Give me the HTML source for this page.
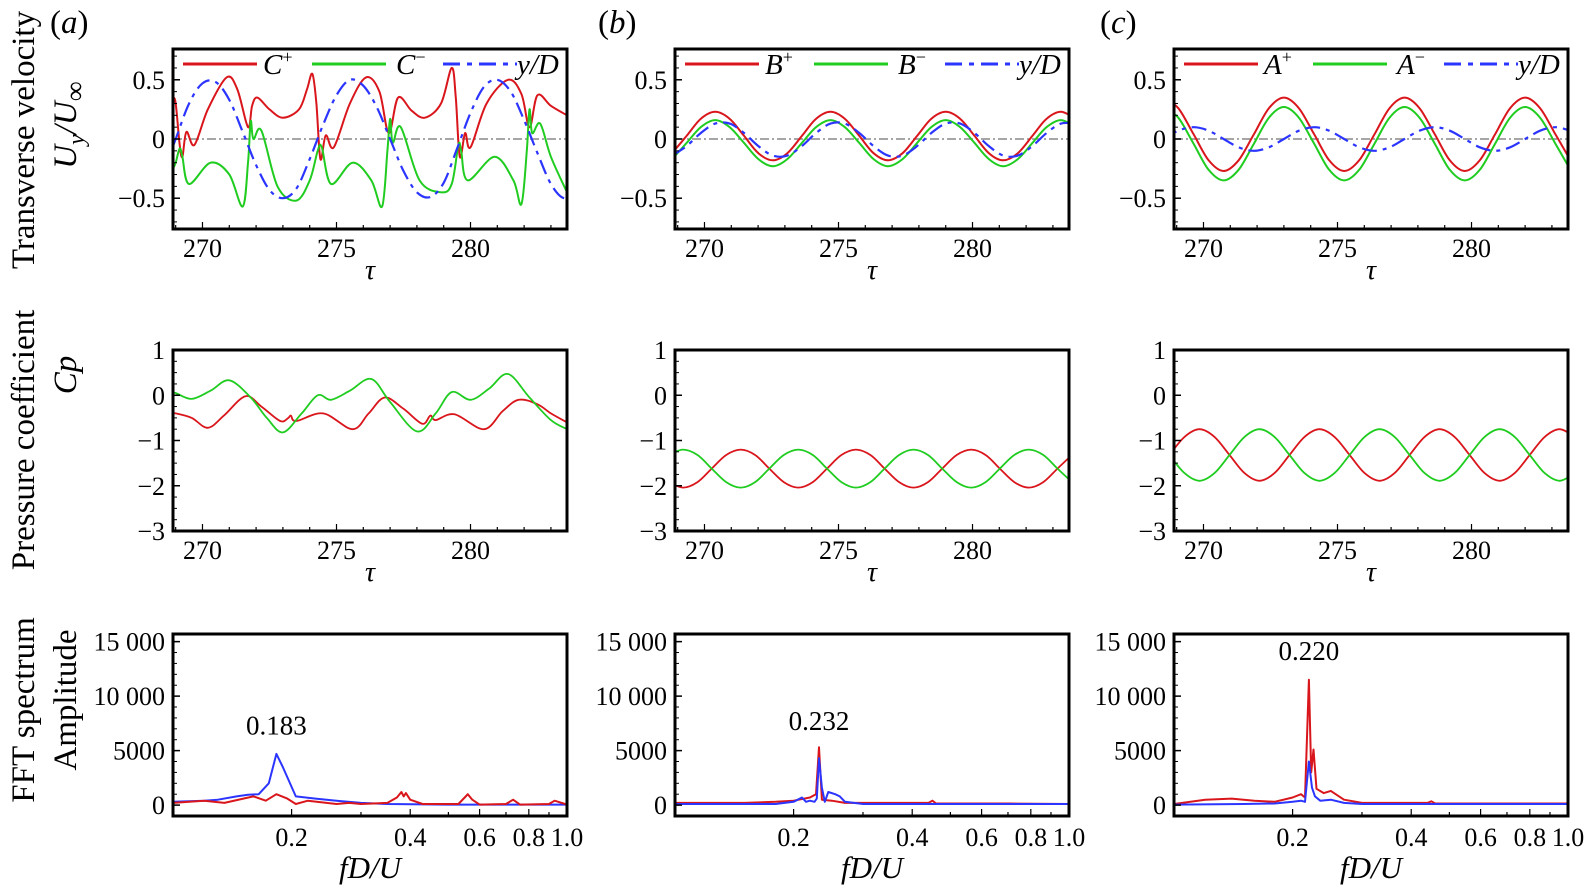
<!DOCTYPE html>
<html><head><meta charset="utf-8"><style>
html,body{margin:0;padding:0;background:#fff;}
svg, svg text{font-family:"Liberation Serif","DejaVu Serif",serif;}
</style></head><body>
<svg id="fig" width="1592" height="886" viewBox="0 0 1592 886" xmlns="http://www.w3.org/2000/svg" font-family="Liberation Serif, DejaVu Serif, serif">
<g font-size="33" fill="#000">
<text transform="translate(34,140) rotate(-90)" text-anchor="middle">Transverse velocity</text>
<text transform="translate(76,125) rotate(-90)" text-anchor="middle" font-style="italic">U<tspan font-size="24" dy="8">y</tspan><tspan dy="-8">/U</tspan><tspan font-size="28" dy="8" font-style="normal">∞</tspan></text>
<text transform="translate(34,440) rotate(-90)" text-anchor="middle">Pressure coefficient</text>
<text transform="translate(76,375) rotate(-90)" text-anchor="middle" font-style="italic">Cp</text>
<text transform="translate(34,710) rotate(-90)" text-anchor="middle">FFT spectrum</text>
<text transform="translate(76,700) rotate(-90)" text-anchor="middle">Amplitude</text>
</g>
<g font-size="33">
<text x="50" y="33">(<tspan font-style="italic">a</tspan>)</text>
<text x="598" y="33">(<tspan font-style="italic">b</tspan>)</text>
<text x="1100" y="33">(<tspan font-style="italic">c</tspan>)</text>
</g>
<g id="plots"></g>
</svg>
<script>
// ---------- Row 1: transverse velocity ----------
const velA_cPlusT = [268.9,269.0,269.15,269.25,269.4,269.7,270.2,270.9,271.3,271.7,271.85,272.05,272.5,273.0,273.6,273.9,274.1,274.25,274.4,274.6,274.9,275.5,276.1,276.6,276.95,277.3,277.8,278.3,278.9,279.3,279.45,279.6,279.8,280.0,280.6,281.4,281.9,282.2,282.5,283.0,283.6];
const velA_cPlusV = [0.35,0.3,-0.05,-0.15,0.06,-0.05,0.25,0.52,0.42,0.1,0.28,0.35,0.25,0.18,0.25,0.42,0.55,0.3,-0.17,0.03,-0.07,0.3,0.52,0.4,0.05,0.35,0.24,0.18,0.3,0.6,0.35,-0.15,0.05,-0.07,0.3,0.5,0.38,0.1,0.37,0.28,0.2];
const velA_cMinusT = [268.9,269.0,269.15,269.25,269.5,270.3,271.0,271.5,271.7,271.8,271.9,272.2,272.8,273.5,274.0,274.3,274.45,274.8,275.6,276.3,276.7,276.9,277.0,277.1,277.4,278.1,278.9,279.3,279.55,279.65,279.9,280.9,281.6,281.9,282.1,282.2,282.3,282.6,283.0,283.6];
const velA_cMinusV = [-0.25,-0.2,-0.08,-0.15,-0.38,-0.2,-0.3,-0.57,-0.2,0.15,0.0,0.07,-0.4,-0.52,-0.35,-0.1,-0.07,-0.38,-0.2,-0.35,-0.57,-0.1,0.17,-0.03,0.1,-0.35,-0.45,-0.38,-0.05,-0.1,-0.35,-0.15,-0.35,-0.55,-0.1,0.25,0.05,0.13,-0.15,-0.45];
const velA_yT = [268.5,269.0,269.5,270.0,270.5,271.0,271.5,272.0,272.5,273.0,273.5,274.0,274.5,275.0,275.5,276.0,276.5,277.0,277.5,278.0,278.5,279.0,279.5,280.0,280.5,281.0,281.5,282.0,282.5,283.0,283.5,284.0];
const velA_yV = [-0.3,0.0,0.3,0.47,0.48,0.33,0.06,-0.22,-0.43,-0.5,-0.42,-0.17,0.12,0.37,0.5,0.45,0.27,0.0,-0.27,-0.45,-0.49,-0.37,-0.08,0.22,0.44,0.5,0.4,0.16,-0.12,-0.38,-0.5,-0.42];

const velB_t = [268.79,269.33,269.86,270.40,270.94,271.48,272.01,272.55,273.09,273.63,274.16,274.70,275.24,275.78,276.31,276.85,277.39,277.93,278.46,279.00,279.54,280.08,280.61,281.15,281.69,282.23,282.76,283.30,283.84];
const velB_plus = [-0.12,0.025,0.17,0.23,0.17,0.025,-0.12,-0.18,-0.12,0.025,0.17,0.23,0.17,0.025,-0.12,-0.18,-0.12,0.025,0.17,0.23,0.17,0.025,-0.12,-0.18,-0.12,0.025,0.17,0.23,0.17];
const velB_minus = [-0.17,-0.035,0.10,0.16,0.10,-0.035,-0.17,-0.23,-0.17,-0.035,0.10,0.16,0.10,-0.035,-0.17,-0.23,-0.17,-0.035,0.10,0.16,0.10,-0.035,-0.17,-0.23,-0.17,-0.035,0.10,0.16,0.10];
const velB_y = [-0.14,-0.06,0.05,0.13,0.13,0.05,-0.06,-0.14,-0.14,-0.06,0.05,0.13,0.13,0.05,-0.06,-0.14,-0.14,-0.06,0.05,0.13,0.13,0.05,-0.06,-0.14,-0.14,-0.06,0.05,0.13,0.13];

const velC_t = [268.5,269.06,269.63,270.19,270.75,271.31,271.88,272.44,273.0,273.56,274.13,274.69,275.25,275.81,276.38,276.94,277.5,278.06,278.63,279.19,279.75,280.31,280.88,281.44,282.0,282.56,283.13,283.69];
const velC_plus = [0.35,0.26,0.04,-0.18,-0.27,-0.18,0.04,0.26,0.35,0.26,0.04,-0.18,-0.27,-0.18,0.04,0.26,0.35,0.26,0.04,-0.18,-0.27,-0.18,0.04,0.26,0.35,0.26,0.04,-0.18];
const velC_minus = [0.27,0.18,-0.04,-0.26,-0.35,-0.26,-0.04,0.18,0.27,0.18,-0.04,-0.26,-0.35,-0.26,-0.04,0.18,0.27,0.18,-0.04,-0.26,-0.35,-0.26,-0.04,0.18,0.27,0.18,-0.04,-0.26];
const velC_y = [0,0.07,0.1,0.07,0,-0.07,-0.1,-0.07,0,0.07,0.1,0.07,0,-0.07,-0.1,-0.07,0,0.07,0.1,0.07,0,-0.07,-0.1,-0.07,0,0.07,0.1,0.07];

// ---------- Row 2: pressure coefficient ----------
const cpA_plusT = [268.9,269.0,269.6,270.2,270.8,271.6,272.2,272.9,273.2,273.3,273.5,274.5,275.6,276.2,276.8,277.5,278.2,278.5,278.7,279.4,280.5,281.2,281.8,282.5,283.0,283.6];
const cpA_plusV = [-0.4,-0.4,-0.5,-0.72,-0.45,-0.02,-0.25,-0.57,-0.5,-0.45,-0.57,-0.4,-0.75,-0.4,-0.05,-0.3,-0.63,-0.45,-0.55,-0.42,-0.75,-0.35,-0.1,-0.2,-0.4,-0.6];
const cpA_minusT = [268.9,269.0,269.6,270.3,271.0,271.8,272.4,273.0,273.7,274.3,274.8,275.5,276.3,277.0,278.0,278.7,279.3,280.0,280.7,281.4,282.2,283.0,283.6];
const cpA_minusV = [0.05,0.05,-0.08,0.1,0.33,-0.05,-0.5,-0.82,-0.4,0.0,-0.1,0.1,0.36,-0.15,-0.8,-0.4,0.07,-0.1,0.15,0.47,-0.05,-0.55,-0.75];

const cpB_t = [268.66,269.2,269.74,270.27,270.81,271.35,271.89,272.42,272.96,273.5,274.04,274.57,275.11,275.65,276.19,276.72,277.26,277.8,278.34,278.87,279.41,279.95,280.49,281.02,281.56,282.1,282.64,283.17,283.71];
const cpB_plus = [-1.92,-2.04,-1.92,-1.62,-1.32,-1.2,-1.32,-1.62,-1.92,-2.04,-1.92,-1.62,-1.32,-1.2,-1.32,-1.62,-1.92,-2.04,-1.92,-1.62,-1.32,-1.2,-1.32,-1.62,-1.92,-2.04,-1.92,-1.62,-1.32];
const cpB_minus = [-1.32,-1.2,-1.32,-1.62,-1.92,-2.04,-1.92,-1.62,-1.32,-1.2,-1.32,-1.62,-1.92,-2.04,-1.92,-1.62,-1.32,-1.2,-1.32,-1.62,-1.92,-2.04,-1.92,-1.62,-1.32,-1.2,-1.32,-1.62,-1.92];

const cpC_t = [268.73,269.29,269.85,270.41,270.97,271.53,272.09,272.65,273.21,273.77,274.33,274.89,275.45,276.01,276.57,277.13,277.69,278.25,278.81,279.37,279.93,280.49,281.05,281.61,282.17,282.73,283.29,283.85];
const cpC_plus = [-1.32,-0.92,-0.75,-0.92,-1.32,-1.72,-1.89,-1.72,-1.32,-0.92,-0.75,-0.92,-1.32,-1.72,-1.89,-1.72,-1.32,-0.92,-0.75,-0.92,-1.32,-1.72,-1.89,-1.72,-1.32,-0.92,-0.75,-0.92];
const cpC_minus = [-1.32,-1.72,-1.89,-1.72,-1.32,-0.92,-0.75,-0.92,-1.32,-1.72,-1.89,-1.72,-1.32,-0.92,-0.75,-0.92,-1.32,-1.72,-1.89,-1.72,-1.32,-0.92,-0.75,-0.92,-1.32,-1.72,-1.89,-1.72];

// ---------- Row 3: FFT spectrum ----------
const fftA_blueF = [0.1,0.12,0.13,0.145,0.155,0.165,0.175,0.183,0.19,0.205,0.23,0.26,0.3,0.35,0.5,1.0];
const fftA_blueA = [300,400,500,800,950,1000,2000,4700,3500,800,600,400,200,100,50,50];
const fftA_redF = [0.1,0.12,0.135,0.16,0.172,0.183,0.195,0.205,0.22,0.26,0.28,0.3,0.35,0.37,0.38,0.385,0.39,0.4,0.43,0.53,0.55,0.56,0.575,0.6,0.7,0.73,0.76,0.9,0.93,1.0];
const fftA_redA = [200,400,200,800,400,1000,600,100,400,100,200,100,200,700,1200,800,1100,500,100,100,700,1000,500,50,100,500,50,100,400,50];
const fftB_redF = [0.1,0.15,0.18,0.2,0.22,0.228,0.232,0.236,0.25,0.27,0.3,0.44,0.45,0.46,0.7,1.0];
const fftB_redA = [200,200,300,400,700,1000,5300,500,400,200,200,200,400,150,150,100];
const fftB_blueF = [0.1,0.18,0.2,0.21,0.215,0.22,0.226,0.229,0.232,0.236,0.24,0.245,0.255,0.262,0.27,0.3,1.0];
const fftB_blueA = [100,100,300,700,300,400,300,600,4300,1600,300,1200,1000,800,300,100,100];
const fftC_redF = [0.1,0.12,0.14,0.16,0.18,0.2,0.21,0.215,0.22,0.223,0.226,0.23,0.24,0.25,0.27,0.3,0.44,0.45,0.46,1.0];
const fftC_redA = [100,500,600,400,300,700,1000,700,11500,3000,5100,1500,1100,1300,500,200,200,350,150,150];
const fftC_blueF = [0.1,0.15,0.18,0.2,0.21,0.215,0.22,0.224,0.228,0.235,0.25,0.27,0.3,1.0];
const fftC_blueA = [50,100,150,300,400,300,4000,1600,800,400,500,200,100,100];

// ---------- layout ----------
const NS = "http://www.w3.org/2000/svg";
const COLX = [173, 675, 1174], PW = 394;
const ROWS = [{y:49,h:180,d:[-0.76,0.76]},{y:350,h:181,d:[-3,1]},{y:634,h:182,d:[-1000,15700]}];
const TDOM = [268.9, 283.6];
const FDOM = [0.1, 1.0];
const RED = "#d9161c", GREEN = "#1fcc1f", BLUE = "#2b35ff";
const FONT = "Liberation Serif, DejaVu Serif, serif";
const root = document.getElementById("plots");

function el(tag, attrs, parent){ const e=document.createElementNS(NS,tag); for(const k in attrs) e.setAttribute(k,attrs[k]); (parent||root).appendChild(e); return e; }
function xLin(c){ return v => COLX[c] + (v-TDOM[0])/(TDOM[1]-TDOM[0])*PW; }
function xLog(c){ return v => COLX[c] + (Math.log10(v)-Math.log10(FDOM[0]))/(Math.log10(FDOM[1])-Math.log10(FDOM[0]))*PW; }
function yS(r){ const R=ROWS[r]; return v => R.y + R.h - (v-R.d[0])/(R.d[1]-R.d[0])*R.h; }

function smoothPath(xs, ys){
  const p = xs.map((x,i)=>[x,ys[i]]);
  let d = "M"+p[0][0].toFixed(1)+","+p[0][1].toFixed(1);
  for(let i=0;i<p.length-1;i++){
    const p0=p[i-1]||p[i], p1=p[i], p2=p[i+1], p3=p[i+2]||p2;
    const c1=[p1[0]+(p2[0]-p0[0])/6, p1[1]+(p2[1]-p0[1])/6];
    const c2=[p2[0]-(p3[0]-p1[0])/6, p2[1]-(p3[1]-p1[1])/6];
    d += "C"+c1[0].toFixed(1)+","+c1[1].toFixed(1)+" "+c2[0].toFixed(1)+","+c2[1].toFixed(1)+" "+p2[0].toFixed(1)+","+p2[1].toFixed(1);
  }
  return d;
}
function linePath(xs, ys){ return xs.map((x,i)=>(i?"L":"M")+x.toFixed(1)+","+ys[i].toFixed(1)).join(""); }

let clipN = 0;
function makePanel(c, r, name){
  const R = ROWS[r];
  const g = el("g", {});
  
  
  const cp = el("clipPath", {id:"clip"+(++clipN)}, g);
  el("rect", {x:COLX[c], y:R.y, width:PW, height:R.h}, cp);
  const plot = el("g", {"clip-path":"url(#clip"+clipN+")"}, g);
  
  
  return {g, plot, R, x0:COLX[c]};
}
function frame(P){
  const f = el("rect", {x:P.x0, y:P.R.y, width:PW, height:P.R.h, fill:"none", stroke:"#000", "stroke-width":3}, P.g);
  
  
}
function series(P, xs, ys, color, name, smooth, dash, w){
  const d = smooth ? smoothPath(xs, ys) : linePath(xs, ys);
  const p = el("path", {d, fill:"none", stroke:color, "stroke-width":w||2, "stroke-linejoin":"round"}, P.plot);
  if(dash) p.setAttribute("stroke-dasharray", dash);
  
  
}
function text(parent, x, y, s, attrs){
  const t = el("text", Object.assign({x, y, "font-size":26, "font-family":FONT}, attrs||{}), parent);
  t.textContent = s;
  return t;
}

const yTicks = [[0.5,0,-0.5],[1,0,-1,-2,-3],[15000,10000,5000,0]];
const yTickLabels = [["0.5","0","\u22120.5"],["1","0","\u22121","\u22122","\u22123"],["15 000","10 000","5000","0"]];
const tTicks = [270,275,280];
const tTickLabels = ["270","275","280"];
const fTicks = [0.2,0.4,0.6,0.8,1.0];
const fTickLabels = ["0.2","0.4","0.6","0.8","1.0"];

const letters = ["C","B","A"];
const velData = [
  [[velA_cPlusT,velA_cPlusV],[velA_cMinusT,velA_cMinusV],[velA_yT,velA_yV]],
  [[velB_t,velB_plus],[velB_t,velB_minus],[velB_t,velB_y]],
  [[velC_t,velC_plus],[velC_t,velC_minus],[velC_t,velC_y]]
];
const cpData = [
  [[cpA_plusT,cpA_plusV],[cpA_minusT,cpA_minusV]],
  [[cpB_t,cpB_plus],[cpB_t,cpB_minus]],
  [[cpC_t,cpC_plus],[cpC_t,cpC_minus]]
];
const fftData = [
  [[fftA_blueF,fftA_blueA],[fftA_redF,fftA_redA]],
  [[fftB_redF,fftB_redA],[fftB_blueF,fftB_blueA]],
  [[fftC_redF,fftC_redA],[fftC_blueF,fftC_blueA]]
];
const fftOrder = [["blue","red"],["red","blue"],["red","blue"]];
const peakLabels = ["0.183","0.232","0.220"];
const peakF = [0.183,0.232,0.220];
const peakLabelAmp = [6500,6900,13300];

function leftTicks(P, r, yf){
  yTicks[r].forEach((v,i)=>{
    const y = yf(v);
    el("line",{x1:P.x0,x2:P.x0+7,y1:y,y2:y,stroke:"#000","stroke-width":1.5},P.g);
    const t = text(P.g, P.x0-8, y+9, yTickLabels[r][i], {"text-anchor":"end"});
    
    
  });
  const d = ROWS[r].d, step = r===0?0.1:(r===1?0.25:1000);
  for(let v=Math.ceil(d[0]/step)*step; v<=d[1]; v+=step){
    const y=yf(v); el("line",{x1:P.x0,x2:P.x0+4,y1:y,y2:y,stroke:"#000","stroke-width":1},P.g);
  }
}
function timeTicks(P, r, xf){
  const yb = P.R.y+P.R.h;
  for(let v=269; v<=283; v+=1){ const x=xf(v); el("line",{x1:x,x2:x,y1:yb,y2:yb-(v%5===0?7:4),stroke:"#000","stroke-width":1.2},P.g); }
  tTicks.forEach((v,i)=>{
    const t = text(P.g, xf(v), yb+28, tTickLabels[i], {"text-anchor":"middle"});
    
    
  });
  const tau = text(P.g, P.x0+PW/2, yb+50, "τ", {"text-anchor":"middle","font-style":"italic","font-size":28});
  
  
}

for(let c=0;c<3;c++){
  const L = letters[c];
  {
    const P = makePanel(c,0,"velocity-panel-"+"abc"[c]);
    const xf=xLin(c), yf=yS(0);
    el("line",{x1:P.x0,x2:P.x0+PW,y1:yf(0),y2:yf(0),stroke:"#888","stroke-width":1.5,"stroke-dasharray":"9,3,2,3"},P.plot);
    const cols=[RED,GREEN,BLUE], nm=[L+"-plus",L+"-minus","y-over-d"];
    velData[c].forEach((s,i)=>{
      series(P, s[0].map(xf), s[1].map(yf), cols[i], "series-"+nm[i], true, i===2?"15,6,4,6":null, i===2?2.2:2);
    });
    frame(P); leftTicks(P,0,yf); timeTicks(P,0,xf);
    const ly = P.R.y+15, lg = el("g",{},P.g);
    
    
    const offs=[[10,84,90],[139,213,223],[270,344,344]];
    offs.forEach((o,i)=>{
      const ln = el("line",{x1:P.x0+o[0],x2:P.x0+o[1],y1:ly,y2:ly,stroke:cols[i],"stroke-width":3},lg);
      if(i===2) ln.setAttribute("stroke-dasharray","17,7,5,7");
      
      
      const t = el("text",{x:P.x0+o[2],y:ly+10,"font-size":29,"font-style":"italic","font-family":FONT},lg);
      if(i<2){ t.textContent=L; const sp=el("tspan",{"font-size":18,dy:-11,"font-style":"normal"},t); sp.textContent=i===0?"+":"\u2212"; }
      else t.textContent="y/D";
      
      
    });
  }
  {
    const P = makePanel(c,1,"pressure-panel-"+"abc"[c]);
    const xf=xLin(c), yf=yS(1);
    cpData[c].forEach((s,i)=>{
      series(P, s[0].map(xf), s[1].map(yf), i===0?RED:GREEN, "cp-series-"+(i===0?L+"-plus":L+"-minus"), true, null, 1.8);
    });
    frame(P); leftTicks(P,1,yf); timeTicks(P,1,xf);
  }
  {
    const P = makePanel(c,2,"fft-panel-"+"abc"[c]);
    const xf=xLog(c), yf=yS(2);
    fftData[c].forEach((s,i)=>{
      const col = fftOrder[c][i]==="red"?RED:BLUE;
      series(P, s[0].map(xf), s[1].map(yf), col, "fft-series-"+fftOrder[c][i], false, null, 2);
    });
    frame(P); leftTicks(P,2,yf);
    const yb=P.R.y+P.R.h;
    for(let k=1;k<=10;k++){ const v=k/10; const x=xf(v); el("line",{x1:x,x2:x,y1:yb,y2:yb-(k%2===0?7:4),stroke:"#000","stroke-width":1.2},P.g); }
    fTicks.forEach((v,i)=>{
      const t = text(P.g, xf(v), yb+30, fTickLabels[i], {"text-anchor":"middle"});
      
      
    });
    const xt = el("text",{x:P.x0+PW/2, y:yb+62, "font-size":31, "font-style":"italic","text-anchor":"middle","font-family":FONT},P.g);
    xt.textContent = "fD/U";
    
    
    const pk = text(P.g, xf(peakF[c]), yf(peakLabelAmp[c]), peakLabels[c], {"text-anchor":"middle","font-size":27});
    
    
  }
}
</script>
</body></html>
